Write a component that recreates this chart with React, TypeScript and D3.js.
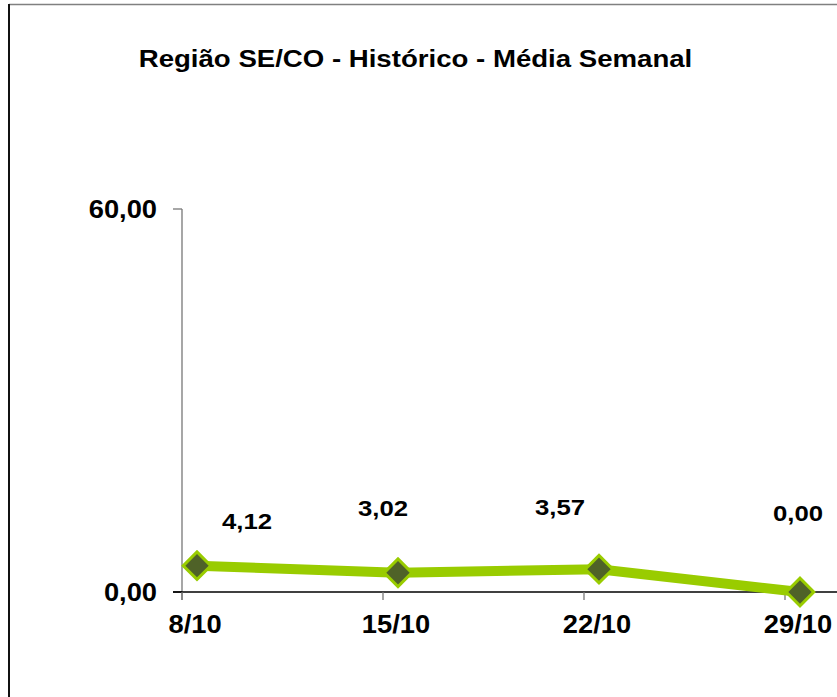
import React, { useEffect, useRef } from "react";
import * as d3 from "d3";

const title = "Região SE/CO - Histórico - Média Semanal";
const weeks = ["8/10", "15/10", "22/10", "29/10"];
const values = [4.12, 3.02, 3.57, 0.0];
const yTicks = [0, 60];
// manual label nudges (Excel-style free placed labels), in px
const labelNudge = [
  [50, -37],
  [-15, -57],
  [-39, -54],
  [-2, -71],
];

const fmt = (v: number) => d3.format(".2f")(v).replace(".", ",");

const App = () => {
  const width = 837;
  const height = 697;
  const axesRef = useRef<SVGGElement>(null);

  const yScale = d3.scaleLinear().domain([0, 60]).range([592, 209]);
  const xScale = d3.scaleLinear().domain([0, weeks.length - 1]).range([197, 800]);
  const tickShift = 15;
  const axisX = xScale(0) - tickShift;

  useEffect(() => {
    const g = d3.select(axesRef.current);
    g.selectAll("*").remove();

    // y axis
    g.append("line")
      .attr("x1", axisX).attr("x2", axisX)
      .attr("y1", yScale(60)).attr("y2", yScale(0) + 8)
      .attr("stroke", "#777").attr("stroke-width", 1.3);
    yTicks.forEach((t) => {
      g.append("line")
        .attr("x1", axisX - 9).attr("x2", axisX)
        .attr("y1", yScale(t)).attr("y2", yScale(t))
        .attr("stroke", t === 0 ? "#000" : "#777").attr("stroke-width", 1.3);
      g.append("text")
        .attr("transform", `translate(157,${yScale(t) + 9}) scale(1.05,1)`)
        .attr("text-anchor", "end")
        .attr("font-family", "Liberation Sans, Arial, sans-serif")
        .attr("font-weight", "bold")
        .attr("font-size", 26)
        .text(fmt(t));
    });

    // x axis
    g.append("line")
      .attr("x1", axisX - 9).attr("x2", width)
      .attr("y1", yScale(0)).attr("y2", yScale(0))
      .attr("stroke", "#000").attr("stroke-width", 1.3);
    weeks.forEach((w, i) => {
      const tx = xScale(i) - tickShift;
      g.append("line")
        .attr("x1", tx).attr("x2", tx)
        .attr("y1", yScale(0)).attr("y2", yScale(0) + 8)
        .attr("stroke", "#777").attr("stroke-width", 1.3);
      g.append("text")
        .attr("transform", `translate(${xScale(i) - 2},633) scale(1.05,1)`)
        .attr("text-anchor", "middle")
        .attr("font-family", "Liberation Sans, Arial, sans-serif")
        .attr("font-weight", "bold")
        .attr("font-size", 26)
        .text(w);
    });
  }, []);

  const line = d3
    .line<number>()
    .x((_, i) => xScale(i))
    .y((d) => yScale(d));
  const linePath = line(values) || "";

  const diamond = d3.symbol().type(d3.symbolSquare).size(380)() || "";

  return (
    <svg
      width={width}
      height={height}
      style={{ position: "absolute", left: 0, top: 0, background: "#fff" }}
    >
      <rect x={0} y={0} width={width} height={height} fill="#fff" />
      {/* chart frame */}
      <line x1={9} x2={width} y1={4.5} y2={4.5} stroke="#808080" strokeWidth={1.5} />
      <line x1={9} x2={9} y1={4} y2={height} stroke="#111" strokeWidth={2} />

      <text
        transform="translate(415.5,67) scale(1.15,1)"
        textAnchor="middle"
        fontFamily="Liberation Sans, Arial, sans-serif"
        fontWeight="bold"
        fontSize={24}
      >
        {title}
      </text>

      <g ref={axesRef} />

      <path
        d={linePath}
        fill="none"
        stroke="#99CC00"
        strokeWidth={10}
        strokeLinejoin="round"
      />
      {values.map((v, i) => (
        <path
          key={i}
          d={diamond}
          transform={`translate(${xScale(i)},${yScale(v)}) rotate(45)`}
          fill="#4F6228"
          stroke="#99CC00"
          strokeWidth={3}
        />
      ))}
      {values.map((v, i) => (
        <text
          key={"l" + i}
          transform={`translate(${xScale(i) + labelNudge[i][0]},${yScale(v) + labelNudge[i][1]}) scale(1.12,1)`}
          textAnchor="middle"
          fontFamily="Liberation Sans, Arial, sans-serif"
          fontWeight="bold"
          fontSize={23}
        >
          {fmt(v)}
        </text>
      ))}
    </svg>
  );
};

export default App;
